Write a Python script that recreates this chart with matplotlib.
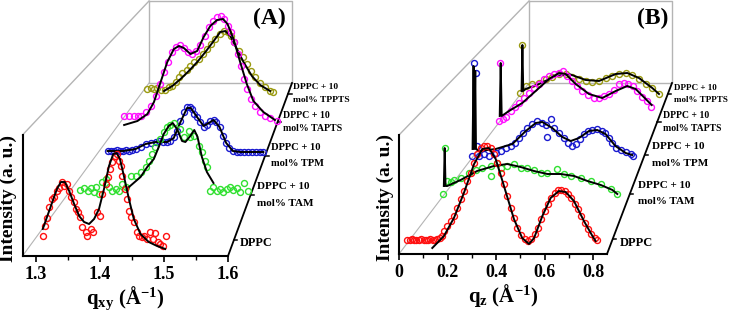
import matplotlib
matplotlib.use('Agg')
import matplotlib.pyplot as plt
from matplotlib.transforms import ScaledTranslation
from matplotlib.ticker import AutoMinorLocator

plt.rcParams['font.family'] = ['Liberation Serif', 'DejaVu Serif']
plt.rcParams['font.weight'] = 'bold'
plt.rcParams['mathtext.fontset'] = 'custom'
plt.rcParams['mathtext.rm'] = 'Liberation Serif:bold'
plt.rcParams['mathtext.bf'] = 'Liberation Serif:bold'
plt.rcParams['mathtext.it'] = 'Liberation Serif:bold'
plt.rcParams['mathtext.default'] = 'bf'

# ---------------- data : panel A (q_xy) ----------------
samples = ['DPPC', 'DPPC + 10\nmol% TAM', 'DPPC + 10\nmol% TPM',
           'DPPC + 10\nmol% TAPTS', 'DPPC + 10\nmol% TPPTS']
colors = ['#ff1010', '#30e030', '#1a1ad0', '#ff10ff', '#9a9a10']

qA_dppc = [1.3106, 1.3142, 1.3173, 1.3209, 1.3246, 1.3286, 1.3328, 1.3364, 1.3401, 1.3442,
           1.3483, 1.3519, 1.3546, 1.3588, 1.3623, 1.3659, 1.369, 1.3727, 1.3779, 1.3805,
           1.3856, 1.3898, 1.396, 1.4001, 1.4038, 1.4089, 1.4125, 1.4156, 1.4193, 1.4229,
           1.4271, 1.4296, 1.4322, 1.4349, 1.4384, 1.4416, 1.4451, 1.4489, 1.4529, 1.4571,
           1.4607, 1.4659, 1.4695, 1.4737, 1.4777, 1.483, 1.4866, 1.4902, 1.4944, 1.4986, 1.5037]
iA_dppc = [20, 30, 38, 49, 57, 59, 65, 68, 74, 70, 72, 65, 59, 54, 47, 44, 39, 29, 24, 20,
           27, 24, 44, 40, 62, 72, 79, 87, 94, 100, 102, 95, 90, 80, 67, 57, 45, 39, 34, 24,
           20, 19, 20, 17, 24, 17, 23, 14, 12, 10, 20]
qA_dppc_fit = [1.3106, 1.3184, 1.3261, 1.3328, 1.339, 1.3452, 1.3519, 1.3597, 1.3675, 1.3752,
               1.383, 1.3908, 1.3985, 1.4063, 1.4141, 1.4208, 1.426, 1.4312, 1.4374, 1.4452,
               1.4529, 1.4633, 1.4762, 1.4892, 1.502]
iA_dppc_fit = [27, 41, 55, 67, 74, 74, 65, 52, 40, 34, 32, 37, 47, 67, 90, 102, 103, 97, 80, 57,
               37, 22, 14, 10, 7]

qA_tam = [1.3457, 1.3519, 1.3572, 1.3623, 1.3665, 1.3701, 1.3752, 1.3805, 1.3856, 1.3908,
          1.396, 1.4012, 1.4063, 1.4116, 1.4167, 1.4245, 1.4322, 1.44, 1.4478, 1.4529,
          1.4582, 1.4633, 1.4711, 1.4762, 1.4815, 1.4866, 1.4917, 1.5021, 1.5073, 1.515,
          1.5177, 1.5239, 1.5306, 1.5358, 1.541, 1.5445, 1.5487, 1.5539, 1.5591, 1.5643,
          1.5694, 1.5747, 1.5798, 1.5849, 1.5902, 1.5953, 1.6016, 1.6082]
iA_tam = [21, 23, 20, 23, 19, 24, 17, 29, 32, 24, 20, 22, 20, 27, 24, 35, 35, 39, 44, 50,
          57, 64, 72, 79, 84, 86, 88, 82, 74, 80, 74, 75, 65, 59, 50, 44, 20, 24, 20, 22,
          19, 22, 24, 21, 23, 19, 28, 20]
qA_tam_fit = [1.4183, 1.44, 1.4504, 1.4607, 1.4684, 1.4762, 1.484, 1.4902, 1.497, 1.5048,
              1.51, 1.5177, 1.5239, 1.529, 1.5358, 1.5436, 1.5539]
iA_tam_fit = [22, 34, 44, 52, 64, 77, 85, 88, 82, 70, 69, 75, 81, 74, 54, 39, 28]

qA_tpm = [1.365, 1.370, 1.3748, 1.3794, 1.3841, 1.3887, 1.3934, 1.398, 1.4027, 1.4089,
          1.4167, 1.4245, 1.4322, 1.44, 1.4451, 1.452, 1.4582, 1.4633, 1.4684, 1.4737,
          1.4789, 1.484, 1.4892, 1.4933, 1.497, 1.5006, 1.5048, 1.5099, 1.515, 1.5203,
          1.5254, 1.5306, 1.5348, 1.5399, 1.5452, 1.5503, 1.5554, 1.5607, 1.5669, 1.572,
          1.5783, 1.5845, 1.5907, 1.5969, 1.6031, 1.6083]
iA_tpm = [20, 20, 20, 21, 20, 20, 21, 20, 21, 22, 24, 27, 28, 29, 30, 29, 29, 30, 34, 40,
          50, 59, 64, 64, 62, 57, 54, 49, 44, 46, 50, 51, 49, 44, 35, 28, 23, 20, 19, 19,
          19, 19, 19, 19, 19, 19]
qA_tpm_fit = [1.365, 1.39, 1.4089, 1.4245, 1.44, 1.4582, 1.4684, 1.4789, 1.4892, 1.495,
              1.5048, 1.515, 1.523, 1.5306, 1.5399, 1.5503, 1.5607, 1.572, 1.6083]
iA_tpm_fit = [20, 20, 22, 27, 29, 29, 33, 49, 63, 63, 54, 45, 48, 51, 44, 28, 20, 19, 19]

qA_tapts = [1.3706, 1.3779, 1.3856, 1.3918, 1.3965, 1.4043, 1.412, 1.4198, 1.4265, 1.4327,
            1.4389, 1.4457, 1.4509, 1.4576, 1.4638, 1.47, 1.4768, 1.4835, 1.4897, 1.4964,
            1.5026, 1.5094, 1.5157, 1.5219, 1.527, 1.5321, 1.5374, 1.5425, 1.5477, 1.5529,
            1.5581, 1.5632, 1.5685, 1.5751, 1.5829, 1.5907, 1.5984, 1.6089]
iA_tapts = [20, 20, 20, 20, 20, 24, 30, 40, 52, 64, 74, 84, 89, 91, 88, 84, 82, 85, 91, 100,
            109, 115, 119, 120, 117, 110, 104, 94, 82, 70, 57, 47, 37, 30, 24, 20, 18, 15]
qA_tapts_fit = [1.3706, 1.3914, 1.4069, 1.4172, 1.4276, 1.438, 1.4483, 1.4561, 1.4638, 1.4742,
                1.4846, 1.4948, 1.5052, 1.5157, 1.525, 1.5321, 1.5415, 1.5518, 1.5622, 1.5725,
                1.588, 1.6062]
iA_tapts_fit = [11, 15, 22, 34, 54, 74, 87, 90, 88, 82, 85, 99, 110, 116, 117, 112, 97, 74, 52,
                35, 24, 16]

qA_tppts = [1.3883, 1.3934, 1.3985, 1.4038, 1.4089, 1.4151, 1.4218, 1.4271, 1.4322, 1.4374,
            1.4426, 1.4493, 1.4555, 1.4617, 1.4684, 1.4753, 1.4815, 1.4877, 1.4944, 1.5011,
            1.5073, 1.5135, 1.5188, 1.5239, 1.5306, 1.5374, 1.5436, 1.5498, 1.5565, 1.5643,
            1.572, 1.5798, 1.5849]
iA_tppts = [15, 16, 15, 16, 14, 14, 17, 18, 22, 27, 31, 34, 38, 42, 45, 50, 55, 60, 65, 70,
            73, 72, 68, 62, 53, 47, 40, 33, 27, 21, 17, 13, 12]
qA_tppts_fit = [1.4141, 1.4271, 1.44, 1.4529, 1.466, 1.4788, 1.4917, 1.5021, 1.5099, 1.5177,
                1.528, 1.5383, 1.5514, 1.5643, 1.5798]
iA_tppts_fit = [13, 18, 25, 33, 42, 52, 63, 72, 73, 68, 55, 42, 28, 19, 13]

# ---------------- data : panel B (q_z) ----------------
qB_dppc = [0.034, 0.044, 0.053, 0.063, 0.072, 0.082, 0.091, 0.101, 0.110, 0.120, 0.129, 0.139,
           0.148, 0.158, 0.167, 0.175, 0.185, 0.199, 0.213, 0.226, 0.24, 0.254, 0.267, 0.281,
           0.295, 0.309, 0.322, 0.336, 0.35, 0.363, 0.377, 0.391, 0.405, 0.419, 0.432, 0.446,
           0.46, 0.473, 0.487, 0.501, 0.517, 0.531, 0.544, 0.558, 0.572, 0.586, 0.6, 0.613,
           0.627, 0.641, 0.654, 0.668, 0.682, 0.695, 0.709, 0.723, 0.736, 0.75, 0.764, 0.778,
           0.791, 0.805, 0.814]
iB_dppc = [14, 14, 15, 14, 14, 14, 15, 14, 14, 14, 15, 14, 14, 15, 16, 18, 23, 28, 33, 38,
           46, 55, 63, 73, 81, 91, 100, 106, 108, 108, 106, 100, 91, 81, 70, 58, 46, 36, 26,
           19, 15, 13, 15, 20, 26, 35, 43, 50, 56, 61, 64, 64, 63, 60, 56, 50, 45, 38, 31, 25,
           20, 16, 14]
qB_dppc_fit = [0.137, 0.185, 0.226, 0.267, 0.309, 0.343, 0.37, 0.398, 0.432, 0.473, 0.507,
               0.535, 0.556, 0.59, 0.624, 0.658, 0.686, 0.72, 0.761, 0.796, 0.809]
iB_dppc_fit = [6, 18, 36, 61, 90, 105, 106, 95, 68, 35, 16, 10, 16, 38, 56, 63, 62, 53, 33, 18, 13]

qB_tam = [0.092, 0.0975, 0.108, 0.122, 0.136, 0.163, 0.198, 0.225, 0.252, 0.287, 0.287, 0.314,
          0.328, 0.355, 0.383, 0.41, 0.437, 0.465, 0.493, 0.52, 0.561, 0.588, 0.616, 0.657,
          0.698, 0.74, 0.781, 0.808]
iB_tam = [14, 60, 27, 26, 28, 30, 35, 38, 40, 42, 32, 45, 40, 42, 44, 40, 40, 38, 35, 35, 39,
          34, 32, 30, 27, 24, 19, 14]
qB_tam_fit = [0.094, 0.0975, 0.101, 0.108, 0.163, 0.231, 0.3, 0.355, 0.41, 0.465, 0.52, 0.575,
              0.63, 0.685, 0.74, 0.788, 0.808]
iB_tam_fit = [22, 60, 22, 22, 28, 37, 42, 44, 41, 37, 34, 34, 32, 27, 23, 18, 14]

qB_tpm = [0.166, 0.173, 0.18, 0.186, 0.193, 0.214, 0.235, 0.262, 0.283, 0.303, 0.324, 0.342,
          0.358, 0.376, 0.392, 0.413, 0.433, 0.454, 0.47, 0.475, 0.488, 0.502, 0.523, 0.543,
          0.561, 0.575, 0.591, 0.608, 0.626, 0.643, 0.66, 0.68, 0.698, 0.714, 0.728, 0.742,
          0.758, 0.777, 0.797, 0.818, 0.827]
iB_tpm = [11, 104, 94, 21, 11, 13, 11, 14, 16, 19, 21, 24, 29, 34, 39, 43, 46, 44, 42, 30, 48,
          39, 34, 29, 24, 21, 23, 28, 33, 36, 37, 38, 36, 34, 29, 24, 19, 17, 15, 13, 11]
qB_tpm_fit = [0.167, 0.171, 0.174, 0.178, 0.181, 0.193, 0.262, 0.331, 0.386, 0.427, 0.454,
              0.495, 0.536, 0.571, 0.605, 0.646, 0.68, 0.714, 0.755, 0.797, 0.824]
iB_tpm_fit = [18, 101, 18, 96, 18, 16, 18, 23, 36, 44, 45, 39, 30, 26, 29, 36, 37, 33, 21, 14, 12]

qB_tapts = [0.2305, 0.2346, 0.247, 0.26, 0.279, 0.296, 0.313, 0.333, 0.354, 0.374, 0.395,
            0.416, 0.436, 0.457, 0.477, 0.495, 0.512, 0.532, 0.553, 0.573, 0.598, 0.621,
            0.642, 0.663, 0.683, 0.704, 0.724, 0.745, 0.763, 0.782, 0.8, 0.82, 0.841, 0.855]
iB_tapts = [9, 67, 11, 13, 19, 23, 27, 32, 37, 42, 46, 51, 54, 56, 57, 59, 54, 49, 44, 39, 35,
            32, 32, 34, 36, 40, 46, 47, 46, 44, 39, 33, 29, 23]
qB_tapts_fit = [0.2335, 0.2374, 0.2415, 0.2716, 0.3263, 0.3815, 0.4362, 0.4774, 0.5049, 0.546,
                0.6008, 0.6556, 0.7107, 0.7584, 0.793, 0.8342, 0.8588]
iB_tapts_fit = [14, 67, 14, 19, 27, 39, 51, 57, 56, 46, 36, 32, 39, 44, 41, 31, 25]

qB_tppts = [0.2704, 0.281, 0.295, 0.322, 0.35, 0.377, 0.405, 0.432, 0.46, 0.487, 0.514, 0.542,
            0.569, 0.597, 0.624, 0.651, 0.679, 0.707, 0.734, 0.761, 0.789, 0.816, 0.844]
iB_tppts = [9, 57, 16, 18, 19, 23, 25, 28, 28, 25, 23, 21, 20, 21, 24, 26, 28, 29, 27, 23, 18,
            14, 8]
qB_tppts_fit = [0.278, 0.2815, 0.285, 0.295, 0.35, 0.4185, 0.4733, 0.542, 0.5967, 0.6654,
                0.7132, 0.7613, 0.816, 0.8436]
iB_tppts_fit = [11, 57, 11, 13, 18, 26, 28, 22, 21, 28, 29, 24, 14, 8]

A_data = [(qA_dppc, iA_dppc, qA_dppc_fit, iA_dppc_fit),
          (qA_tam, iA_tam, qA_tam_fit, iA_tam_fit),
          (qA_tpm, iA_tpm, qA_tpm_fit, iA_tpm_fit),
          (qA_tapts, iA_tapts, qA_tapts_fit, iA_tapts_fit),
          (qA_tppts, iA_tppts, qA_tppts_fit, iA_tppts_fit)]
B_data = [(qB_dppc, iB_dppc, qB_dppc_fit, iB_dppc_fit),
          (qB_tam, iB_tam, qB_tam_fit, iB_tam_fit),
          (qB_tpm, iB_tpm, qB_tpm_fit, iB_tpm_fit),
          (qB_tapts, iB_tapts, qB_tapts_fit, iB_tapts_fit),
          (qB_tppts, iB_tppts, qB_tppts_fit, iB_tppts_fit)]

# ---------------- layout (pixels) ----------------
W, H, DPI = 729, 317, 100
fig = plt.figure(figsize=(W / DPI, H / DPI), dpi=DPI)

overlay = fig.add_axes([0, 0, 1, 1])
overlay.set_xlim(0, W)
overlay.set_ylim(H, 0)
overlay.axis('off')


def px_axes(l, t, r, b):
    ax = fig.add_axes([l / W, 1 - b / H, (r - l) / W, (b - t) / H])
    ax.patch.set_visible(False)
    return ax


panels = [
    dict(box=(22.5, 135, 228, 256), xlim=(1.279, 1.6), ticks=[1.3, 1.4, 1.5, 1.6],
         ticklabels=['1.3', '1.4', '1.5', '1.6'], xlabel=r'q$_{xy}$ (Å$^{-1}$)',
         back=(149, 1, 292, 83), depth_end=(292, 83),
         offsets=[(0, 0), (15, 45), (30, 85), (43, 120), (55, 152)],
         tick_y=[240, 195, 155.5, 122, 93.7],
         lab=[(240, 242.7, None, 8.7), (256.7, 186.7, 203.3, 8), (271, 147.7, 163.3, 7.6),
              (282.7, 116, 128.3, 7.1), (292.7, 87.3, 100, 6.8)],
         tag='(A)', tagpos=(269, 18), ylabx=8, data=A_data),
    dict(box=(399, 135, 607, 254), xlim=(0, 0.856), ticks=[0, 0.2, 0.4, 0.6, 0.8],
         ticklabels=['0', '0.2', '0.4', '0.6', '0.8'], xlabel=r'q$_{z}$ (Å$^{-1}$)',
         back=(529, 1, 672, 83), depth_end=(672, 83),
         offsets=[(0, 0), (22, 46), (33, 87), (44, 124), (55, 152)],
         tick_y=[239, 193.5, 155, 121.7, 93.7],
         lab=[(619.3, 242.7, None, 9), (638.3, 185, 201.7, 8), (651.7, 146.7, 163.3, 8),
              (662.7, 115, 128.3, 7.0), (674, 87.7, 100, 6.5)],
         tag='(B)', tagpos=(653, 18), ylabx=385, data=B_data),
]

gray = '#b4b4b4'
for P in panels:
    l, t, r, b = P['box']
    ax = px_axes(l, t, r, b)
    ax.set_xlim(*P['xlim'])
    ax.set_ylim(0, b - t)
    ax.set_yticks([])
    ax.set_xticks(P['ticks'])
    ax.set_xticklabels(P['ticklabels'])
    ax.xaxis.set_minor_locator(AutoMinorLocator(2))
    ax.tick_params(axis='x', which='major', direction='out', length=4, width=1.2,
                   labelsize=13, pad=3)
    ax.tick_params(axis='x', which='minor', direction='out', length=3, width=1.0)
    for s in ('top', 'right'):
        ax.spines[s].set_visible(False)
    for s in ('left', 'bottom'):
        ax.spines[s].set_linewidth(1.5)
    ax.set_xlabel(P['xlabel'], fontsize=15, fontweight='bold', labelpad=1)

    # 3D frame
    bl, bt, br, bb = P['back']
    overlay.plot([bl, br, br, bl, bl], [bt, bt, bb, bb, bt], color=gray, lw=1.0, zorder=0)
    overlay.plot([l, bl], [t, bt], color=gray, lw=1.0, zorder=0)
    overlay.plot([l, bl], [b, bb], color=gray, lw=0.8, zorder=0)
    ex, ey = P['depth_end']
    overlay.plot([r, ex], [b, ey], color='k', lw=1.3, zorder=0)
    for ty in P['tick_y']:
        tx = r + (b - ty) / (b - ey) * (ex - r)
        overlay.plot([tx, tx + 3.5], [ty, ty], color='k', lw=1.1, zorder=0)
    for (lx, ly1, ly2, fs), name in zip(P['lab'], samples):
        parts = name.split('\n')
        overlay.text(lx, ly1, parts[0], fontsize=fs, fontweight='bold', ha='left', va='center')
        if ly2 is not None:
            overlay.text(lx, ly2, parts[1], fontsize=fs, fontweight='bold', ha='left', va='center')

    overlay.text(P['tagpos'][0], P['tagpos'][1], P['tag'], fontsize=17, fontweight='bold',
                 ha='center', va='center')
    overlay.text(P['ylabx'], (t + b) / 2 + 3, 'Intensity (a. u.)', fontsize=14,
                 fontweight='bold', rotation=90, ha='center', va='center')

    # waterfall curves, back to front
    for k in range(4, -1, -1):
        q, I, qf, If = P['data'][k]
        dx, dy = P['offsets'][k]
        tr = ax.transData + ScaledTranslation(dx / DPI, dy / DPI, fig.dpi_scale_trans)
        z = 10 + (4 - k) * 2
        ax.plot(q, I, 'o', mfc='none', mec=colors[k], ms=4.3, mew=1.0, transform=tr,
                clip_on=False, zorder=z)
        ax.plot(qf, If, '-', color='k', lw=1.4, transform=tr, clip_on=False, zorder=z + 1)

fig.savefig('out.png', dpi=DPI)
